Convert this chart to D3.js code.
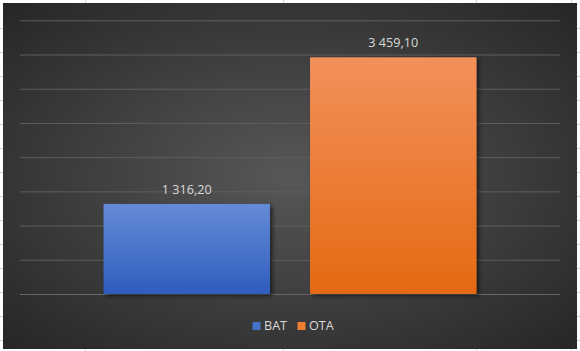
<!DOCTYPE html>
<html><head><meta charset="utf-8">
<script src="https://cdn.jsdelivr.net/npm/d3@7"></script>
<style>html,body{margin:0;padding:0;background:#fff;}svg{display:block;}</style>
</head><body>
<script>
const categories = [""];
const seriesNames = ["BAT", "OTA"];
const seriesValues = [1316.20, 3459.10];
const valueLabels = ["1 316,20", "3 459,10"];
const tickValues = [0, 500, 1000, 1500, 2000, 2500, 3000, 3500, 4000];

const W = 580, H = 351;
const svg = d3.select("body").append("svg").attr("width", W).attr("height", H);
const defs = svg.append("defs");

// sheet cell lines behind the chart
const sheet = svg.append("g");
[28,52,76,100,124,148,172,196,220,244,268,292,316,340].forEach(y =>
  sheet.append("line").attr("x1",0).attr("x2",W).attr("y1",y+0.5).attr("y2",y+0.5).attr("stroke","#d4d4d4"));
[85,283,476,571].forEach(x =>
  sheet.append("line").attr("y1",0).attr("y2",H).attr("x1",x+0.5).attr("x2",x+0.5).attr("stroke","#d4d4d4"));

const bg = defs.append("radialGradient").attr("id","bg").attr("cx","50%").attr("cy","50%").attr("r","72%");
bg.append("stop").attr("offset","0%").attr("stop-color","#575757");
bg.append("stop").attr("offset","100%").attr("stop-color","#252525");

const grads = [["#658bd6","#2e5dbe"],["#f3905b","#e46a12"]];
grads.forEach((g,i)=>{
  const lg = defs.append("linearGradient").attr("id","bar"+i).attr("x1",0).attr("x2",0).attr("y1",0).attr("y2",1);
  lg.append("stop").attr("offset","0%").attr("stop-color",g[0]);
  lg.append("stop").attr("offset","100%").attr("stop-color",g[1]);
});
const f = defs.append("filter").attr("id","shadow").attr("x","-10%").attr("y","-10%").attr("width","130%").attr("height","130%");
f.append("feDropShadow").attr("dx",2.5).attr("dy",2).attr("stdDeviation",2).attr("flood-color","#000").attr("flood-opacity",0.55);

svg.append("rect").attr("x",3).attr("y",3).attr("width",574).attr("height",346).attr("fill","url(#bg)");

const plot = {left:20, right:560, top:20.3, bottom:294};
const y = d3.scaleLinear().domain([0,4000]).range([plot.bottom, plot.top]);
const x0 = d3.scaleBand().domain(categories).range([plot.left, plot.right]).paddingInner(0).paddingOuter(0.224);
const x1 = d3.scaleBand().domain(seriesNames).range([0, x0.bandwidth()]).paddingInner(0.194).paddingOuter(0);

// gridlines
const grid = svg.append("g").attr("transform",`translate(${plot.left},0)`)
  .call(d3.axisLeft(y).tickValues(tickValues).tickSize(-(plot.right-plot.left)).tickFormat(""));
grid.select(".domain").remove();
grid.selectAll(".tick line").attr("stroke","#5e5e5e").attr("stroke-width",1);
grid.selectAll(".tick").filter(d=>d===0).select("line").attr("stroke","#666");

const data = seriesNames.map((s,i)=>({s, v:seriesValues[i], label:valueLabels[i], i}));
const g = svg.append("g").attr("transform",`translate(${x0("")},0)`);
g.selectAll("rect.bar").data(data).enter().append("rect")
  .attr("x",d=>x1(d.s)).attr("width",x1.bandwidth())
  .attr("y",d=>y(d.v)).attr("height",d=>y(0)-y(d.v))
  .attr("fill",d=>`url(#bar${d.i})`).attr("filter","url(#shadow)");
g.selectAll("text.lbl").data(data).enter().append("text")
  .attr("x",d=>x1(d.s)+x1.bandwidth()/2).attr("y",d=>y(d.v)-10)
  .attr("text-anchor","middle").attr("fill","#d9d9d9")
  .attr("font-family","'Open Sans', sans-serif").attr("font-size",12.6)
  .text(d=>d.label);

// legend
const legendColors = ["#4472c4","#ed7d31"];
const leg = svg.append("g");
const legX = [252.5, 297.5];
seriesNames.forEach((s,i)=>{
  leg.append("rect").attr("x",legX[i]).attr("y",322).attr("width",8).attr("height",8).attr("fill",legendColors[i]);
  leg.append("text").attr("x",legX[i]+11.5).attr("y",330).attr("fill","#d9d9d9")
    .attr("font-family","'Open Sans', sans-serif").attr("font-size",12.6).text(s);
});
</script>
</body></html>
